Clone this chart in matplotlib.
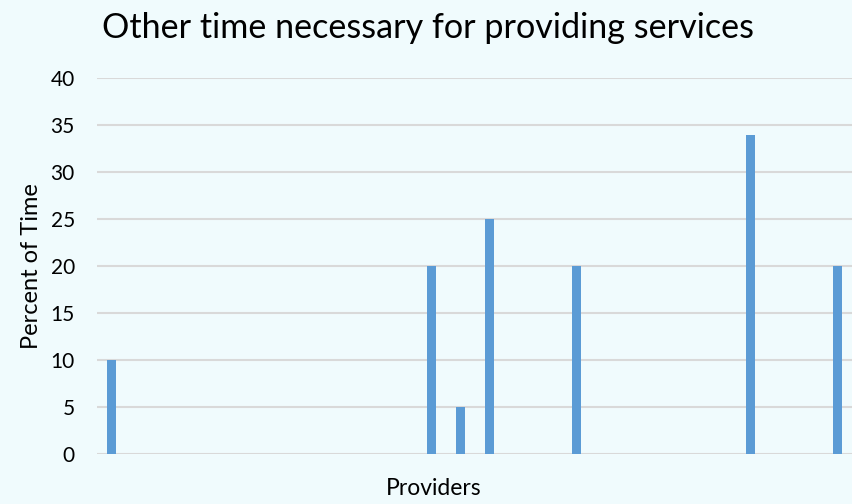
import matplotlib.pyplot as plt
import numpy as np

# 26 providers, most with no other time
providers = list(range(1, 27))
percent = [10, 0, 0, 0, 0, 0, 0, 0, 0, 0, 0, 20, 5, 25, 0, 0, 20, 0, 0, 0, 0, 0, 34, 0, 0, 20]
yticks = [0, 5, 10, 15, 20, 25, 30, 35, 40]

bg = '#F0FBFD'
plt.rcParams['font.family'] = ['Lato', 'DejaVu Sans']

fig = plt.figure(figsize=(8.52, 5.04), dpi=100, facecolor=bg)
ax = fig.add_axes([0.114, 0.099, 0.886, 0.746], facecolor=bg)

x = np.arange(len(providers))
ax.bar(x, percent, width=0.31, color='#5B9BD5', zorder=3)

ax.set_xlim(-0.5, len(providers) - 0.5)
ax.set_ylim(0, 40)
ax.set_yticks(yticks)
ax.set_xticks([])
ax.grid(axis='y', color='#D9D9D9', linewidth=1.5, zorder=0)
ax.tick_params(axis='y', length=0, pad=16, labelsize=15, labelcolor='#000000')
for s in ax.spines.values():
    s.set_visible(False)

ax.set_ylabel('Percent of Time', fontsize=17, labelpad=6)
fig.text(0.509, 0.030, 'Providers', fontsize=16.5, ha='center', va='center')
fig.text(0.502, 0.944, 'Other time necessary for providing services', fontsize=24.6,
         ha='center', va='center')

plt.savefig('out.png', dpi=100, facecolor=bg)
plt.close()
